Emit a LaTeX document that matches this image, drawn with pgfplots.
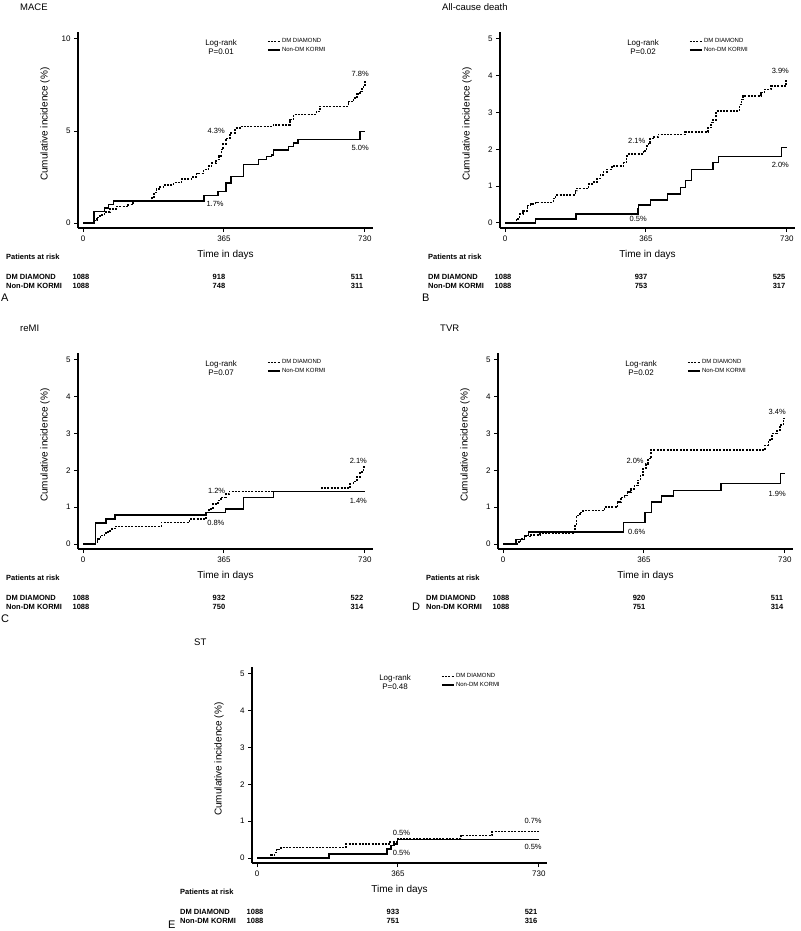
\documentclass[border=0pt]{standalone}
\usepackage{pgfplots}
\pgfplotsset{compat=1.18}
\usepackage{fontspec}
\setmainfont{Liberation Sans}

\newcommand{\fs}[1]{\fontsize{#1}{#1}\selectfont}

\pgfplotsset{
  km/.style={
    scale only axis, width=295pt, height=196pt,
    anchor=south west,
    axis lines=left,
    axis line style={-, line width=1.3pt},
    every outer x axis line/.append style={-},
    every outer y axis line/.append style={-},
    every inner x axis line/.append style={-},
    every inner y axis line/.append style={-},
    tick align=outside, major tick length=4pt,
    tick style={line width=1pt, black},
    xmin=-13, xmax=751,
    xtick={0,365,730},
    tick label style={font=\fs{8}},
    /pgf/number format/assume math mode=true,
    xlabel={Time in days}, ylabel={Cumulative incidence (\%)},
    label style={font=\fs{10}},
    x label style={at={(axis description cs:0.5,-0.138)}, anchor=center},
    y label style={at={(axis description cs:-0.112,0.53)}, anchor=center},
    legend style={draw=none, fill=none, at={(axis description cs:0.64,0.975)},
      anchor=north west, font=\fs{6}, row sep=0pt, inner sep=0pt,
      nodes={inner sep=1.5pt}},
    legend cell align=left,
    legend image code/.code={\draw[#1] (0pt,0pt) -- (12pt,0pt);},
    clip=false,
  },
  y5/.style={ymin=-0.136, ymax=5.19, ytick={0,1,2,3,4,5}},
  y10/.style={ymin=-0.27, ymax=10.38, ytick={0,5,10}},
  dm/.style={const plot, black, line width=1.5pt, dash pattern=on 2pt off 1.3pt, no marks},
  nd/.style={const plot, black, line width=1.5pt, no marks},
}
\tikzset{
  pct/.style={font=\fs{7.5}, inner sep=0pt},
  lr/.style={font=\fontsize{8}{9}\selectfont, align=center, inner sep=0pt},
}

% title and panel letter, relative to the corner of the axis lines
\newcommand{\paneltext}[6]{%
  \begin{scope}[shift={(#1pt,-#2pt)}]
    \node[anchor=west, inner sep=0pt, font=\fs{9.5}] at (-58pt,221pt) {#3};
    \node[anchor=west, inner sep=0pt, font=\fs{11}] at (#5pt,-#6pt) {#4};
  \end{scope}}
% patients at risk table
\newcommand{\risktab}[8]{%
  \begin{scope}[shift={(#1pt,-#2pt)}, every node/.style={inner sep=0pt, font=\bfseries\fs{7.5}}]
    \node[anchor=west] at (-72pt,-29pt) {Patients at risk};
    \node[anchor=west] at (-72pt,-49pt) {DM DIAMOND};
    \node[anchor=west] at (-72pt,-58pt) {Non-DM KORMI};
    \node at (3pt,-49pt) {#3};   \node at (141pt,-49pt) {#4}; \node at (279pt,-49pt) {#5};
    \node at (3pt,-58pt) {#6};   \node at (141pt,-58pt) {#7}; \node at (279pt,-58pt) {#8};
  \end{scope}}

\begin{document}
\begin{tikzpicture}
\useasboundingbox (0,0) rectangle (800pt,-931pt);

% ---------- A: MACE
\begin{axis}[km, y10, at={(78pt,-228pt)}]
\addplot[dm] coordinates {(0,0)(30,0.15)(36,0.3)(44,0.45)(55,0.6)(70,0.75)(87,0.9)(117,1.0)(130,1.18)(178,1.4)(184,1.65)(190,1.85)(200,1.95)(208,2.08)(234,2.2)(255,2.4)(281,2.5)(294,2.7)(312,2.9)(325,3.1)(333,3.25)(345,3.45)(352,3.65)(358,4.0)(363,4.3)(370,4.6)(381,4.9)(394,5.16)(406,5.25)(493,5.34)(536,5.62)(545,5.9)(605,6.07)(614,6.34)(687,6.6)(700,6.8)(710,7.0)(717,7.16)(722,7.3)(726,7.5)(730,7.8)};
\addlegendentry{DM DIAMOND}
\addplot[nd] coordinates {(0,0)(29,0.63)(55,0.82)(66,1.0)(79,1.21)(313,1.49)(350,1.72)(370,2.17)(383,2.54)(415,3.17)(454,3.44)(475,3.62)(488,3.71)(493,3.98)(532,4.17)(545,4.35)(557,4.53)(717,4.98)(730,4.98)};
\addlegendentry{Non-DM KORMI}
\node[lr] at (rel axis cs:0.485,0.921) {Log-rank\\P=0.01};
\node[pct] at (axis cs:718,8.09) {7.8\%};
\node[pct] at (axis cs:345,5.0) {4.3\%};
\node[pct] at (axis cs:342,1.03) {1.7\%};
\node[pct] at (axis cs:718,4.07) {5.0\%};
\end{axis}

% ---------- B: All-cause death
\begin{axis}[km, y5, at={(500pt,-228pt)}]
\addplot[dm] coordinates {(0,0)(30,0.11)(38,0.24)(46,0.33)(58,0.47)(66,0.51)(79,0.56)(126,0.67)(131,0.76)(182,0.88)(186,0.94)(216,1.06)(229,1.12)(238,1.21)(247,1.3)(255,1.39)(264,1.46)(277,1.55)(307,1.64)(315,1.82)(320,1.87)(358,1.96)(367,2.09)(371,2.18)(375,2.29)(384,2.34)(397,2.41)(466,2.47)(526,2.59)(534,2.73)(539,2.8)(547,3.04)(607,3.22)(612,3.36)(616,3.45)(663,3.54)(672,3.63)(689,3.72)(728,3.87)(730,3.87)};
\addlegendentry{DM DIAMOND}
\addplot[nd] coordinates {(0,0)(79,0.11)(184,0.24)(344,0.4)(346,0.49)(377,0.62)(421,0.79)(455,0.97)(467,1.15)(483,1.46)(539,1.64)(553,1.81)(716,2.05)(730,2.05)};
\addlegendentry{Non-DM KORMI}
\node[lr] at (rel axis cs:0.485,0.921) {Log-rank\\P=0.02};
\node[pct] at (axis cs:713,4.12) {3.9\%};
\node[pct] at (axis cs:341,2.23) {2.1\%};
\node[pct] at (axis cs:345,0.11) {0.5\%};
\node[pct] at (axis cs:713,1.57) {2.0\%};
\end{axis}

% ---------- C: reMI
\begin{axis}[km, y5, at={(78pt,-549pt)}]
\addplot[dm] coordinates {(0,0)(32,0.06)(38,0.14)(45,0.23)(55,0.3)(65,0.36)(75,0.42)(85,0.48)(203,0.59)(276,0.68)(319,0.86)(326,0.95)(336,1.09)(349,1.18)(357,1.27)(370,1.36)(379,1.43)(619,1.52)(692,1.64)(700,1.7)(709,1.82)(717,1.95)(726,2.09)(730,2.09)};
\addlegendentry{DM DIAMOND}
\addplot[nd] coordinates {(0,0)(32,0.57)(60,0.68)(83,0.79)(319,0.86)(369,0.95)(416,1.27)(493,1.43)(730,1.43)};
\addlegendentry{Non-DM KORMI}
\node[lr] at (rel axis cs:0.485,0.921) {Log-rank\\P=0.07};
\node[pct] at (axis cs:713,2.27) {2.1\%};
\node[pct] at (axis cs:346,1.43) {1.2\%};
\node[pct] at (axis cs:344,0.57) {0.8\%};
\node[pct] at (axis cs:713,1.18) {1.4\%};
\end{axis}

% ---------- D: TVR
\begin{axis}[km, y5, at={(498pt,-549pt)}]
\addplot[dm] coordinates {(0,0)(36,0.05)(45,0.14)(55,0.2)(70,0.25)(96,0.29)(186,0.5)(190,0.77)(199,0.86)(207,0.91)(263,1.0)(297,1.14)(306,1.27)(315,1.32)(323,1.41)(332,1.5)(340,1.59)(349,1.73)(356,1.86)(362,2.05)(370,2.18)(375,2.32)(383,2.55)(679,2.68)(687,2.82)(696,3.0)(709,3.09)(717,3.23)(726,3.41)(730,3.41)};
\addlegendentry{DM DIAMOND}
\addplot[nd] coordinates {(0,0)(33,0.12)(56,0.23)(66,0.32)(312,0.59)(368,0.86)(385,1.14)(410,1.3)(441,1.45)(565,1.64)(719,1.91)(730,1.91)};
\addlegendentry{Non-DM KORMI}
\node[lr] at (rel axis cs:0.485,0.921) {Log-rank\\P=0.02};
\node[pct] at (axis cs:710,3.59) {3.4\%};
\node[pct] at (axis cs:342,2.27) {2.0\%};
\node[pct] at (axis cs:346,0.32) {0.6\%};
\node[pct] at (axis cs:710,1.36) {1.9\%};
\end{axis}

% ---------- E: ST
\begin{axis}[km, y5, at={(252pt,-863pt)}]
\addplot[dm] coordinates {(0,0)(36,0.08)(45,0.15)(51,0.23)(62,0.29)(231,0.38)(342,0.44)(364,0.52)(528,0.61)(609,0.72)(730,0.72)};
\addlegendentry{DM DIAMOND}
\addplot[nd] coordinates {(0,0)(186,0.11)(336,0.24)(347,0.34)(355,0.38)(364,0.5)(730,0.5)};
\addlegendentry{Non-DM KORMI}
\node[lr] at (rel axis cs:0.485,0.921) {Log-rank\\P=0.48};
\node[pct] at (axis cs:715,1.01) {0.7\%};
\node[pct] at (axis cs:374,0.68) {0.5\%};
\node[pct] at (axis cs:374,0.14) {0.5\%};
\node[pct] at (axis cs:715,0.31) {0.5\%};
\end{axis}

\paneltext{78}{228}{MACE}{A}{-77}{70}
\risktab{78}{228}{1088}{918}{511}{1088}{748}{311}
\paneltext{500}{228}{All-cause death}{B}{-78}{70}
\risktab{500}{228}{1088}{937}{525}{1088}{753}{317}
\paneltext{78}{549}{reMI}{C}{-77}{70}
\risktab{78}{549}{1088}{932}{522}{1088}{750}{314}
\paneltext{498}{549}{TVR}{D}{-86}{58}
\risktab{498}{549}{1088}{920}{511}{1088}{751}{314}
\paneltext{252}{863}{ST}{E}{-84}{62}
\risktab{252}{863}{1088}{933}{521}{1088}{751}{316}
\end{tikzpicture}
\end{document}
